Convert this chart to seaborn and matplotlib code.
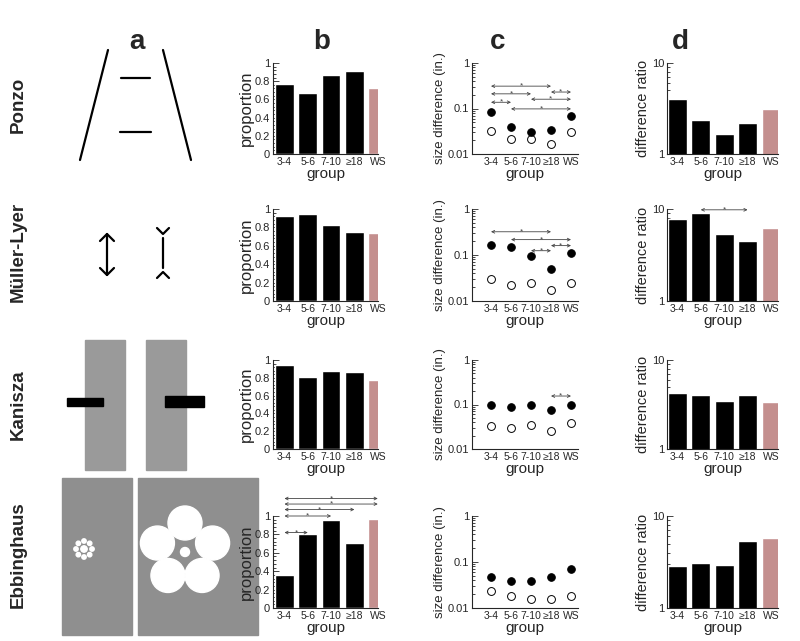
import numpy as np
import pandas as pd
import matplotlib
matplotlib.use('Agg')
import matplotlib.pyplot as plt
import seaborn as sns
from matplotlib.ticker import MultipleLocator, FixedLocator, LogLocator, NullFormatter, FixedFormatter
from matplotlib.patches import Rectangle, Circle

sns.set_style('ticks')
plt.rcParams['font.family'] = ['Liberation Sans', 'DejaVu Sans']

# ------------------------------
# DATA
# ------------------------------
groups = ['3-4', '5-6', '7-10', '≥18', 'WS']
illusions = ['Ponzo', 'Müller-Lyer', 'Kanisza', 'Ebbinghaus']

# column b: proportion
prop_ponzo = [0.77, 0.67, 0.865, 0.91, 0.72]
prop_muller = [0.92, 0.95, 0.83, 0.755, 0.74]
prop_kanisza = [0.94, 0.81, 0.88, 0.86, 0.78]
prop_ebbing = [0.355, 0.80, 0.96, 0.71, 0.97]

# column c: size difference (in.), filled / open circles
size_fill_ponzo = [0.085, 0.040, 0.031, 0.034, 0.069]
size_open_ponzo = [0.032, 0.021, 0.021, 0.017, 0.030]
size_fill_muller = [0.167, 0.15, 0.093, 0.050, 0.11]
size_open_muller = [0.030, 0.022, 0.025, 0.017, 0.025]
size_fill_kanisza = [0.10, 0.089, 0.10, 0.075, 0.10]
size_open_kanisza = [0.033, 0.029, 0.034, 0.025, 0.038]
size_fill_ebbing = [0.047, 0.038, 0.038, 0.048, 0.070]
size_open_ebbing = [0.023, 0.018, 0.0155, 0.016, 0.018]

# column d: difference ratio
ratio_ponzo = [4.0, 2.39, 1.64, 2.18, 3.09]
ratio_muller = [7.8, 8.97, 5.34, 4.47, 6.2]
ratio_kanisza = [4.24, 4.06, 3.44, 4.0, 3.35]
ratio_ebbing = [2.87, 3.1, 2.97, 5.3, 5.7]

# significance brackets: (from group, to group, height)
sig_b_ebbing = [(0, 4, 1.19), (0, 4, 1.13), (0, 3, 1.07), (0, 2, 1.0), (0, 1, 0.82)]
sig_c_ponzo = [(0, 3, 0.31), (0, 2, 0.21), (3, 4, 0.23), (0, 1, 0.137), (2, 4, 0.16), (1, 4, 0.098)]
sig_c_muller = [(0, 3, 0.32), (1, 4, 0.216), (3, 4, 0.16), (2, 3, 0.124)]
sig_c_kanisza = [(3, 4, 0.155)]
sig_d_muller = [(1, 3, 9.8)]

bar_colors = ['black', 'black', 'black', 'black', '#c48f8e']

# ------------------------------
# LAYOUT (pixel boxes)
# ------------------------------
W, H = 800, 641
fig = plt.figure(figsize=(8, 6.41), dpi=100)

col_b = (273, 378)
col_c = (472, 578)
col_d = (667, 778)
rows = [(63, 154), (209, 301), (360, 449), (516, 608)]


def ax_at(x0, x1, y0, y1):
    return fig.add_axes([x0 / W, 1 - y1 / H, (x1 - x0) / W, (y1 - y0) / H])


def style_axis(ax, ylabel, ysize):
    sns.despine(ax=ax)
    for s in ['left', 'bottom']:
        ax.spines[s].set_linewidth(0.8)
    ax.tick_params(axis='y', which='both', direction='in', width=0.6, labelsize=8, pad=2)
    ax.tick_params(axis='y', which='major', length=4)
    ax.tick_params(axis='y', which='minor', length=2)
    ax.tick_params(axis='x', length=0, labelsize=7.5, pad=2)
    ax.set_xlabel('group', fontsize=11, labelpad=0)
    ax.set_ylabel(ylabel, fontsize=ysize, labelpad=1)


def sig(ax, i, j, y, color='#444444'):
    ax.annotate('', xy=(i, y), xytext=(j, y),
                arrowprops=dict(arrowstyle='<->', color=color, lw=0.6,
                                mutation_scale=5, shrinkA=0, shrinkB=0),
                annotation_clip=False)
    ax.text((i + j) / 2, y, '*', ha='center', va='center', fontsize=6,
            color=color, clip_on=False)


def bar_panel(box, vals, log=False, sigs=()):
    ax = ax_at(*box)
    df = pd.DataFrame({'group': groups, 'value': vals})
    sns.barplot(data=df, x='group', y='value', hue='group', palette=bar_colors,
                width=0.8, saturation=1, legend=False, ax=ax)
    if log:
        ax.set_yscale('log')
        ax.set_ylim(1, 10)
        ax.yaxis.set_major_locator(FixedLocator([1, 10]))
        ax.yaxis.set_major_formatter(FixedFormatter(['1', '10']))
        ax.yaxis.set_minor_locator(LogLocator(base=10, subs=np.arange(2, 10)))
        ax.yaxis.set_minor_formatter(NullFormatter())
        style_axis(ax, 'difference ratio', 10.5)
    else:
        ax.set_ylim(0, 1)
        ax.yaxis.set_major_locator(FixedLocator([0, 0.2, 0.4, 0.6, 0.8, 1]))
        ax.yaxis.set_major_formatter(FixedFormatter(['0', '0.2', '0.4', '0.6', '0.8', '1']))
        ax.yaxis.set_minor_locator(MultipleLocator(0.04))
        style_axis(ax, 'proportion', 12)
    for i, j, y in sigs:
        sig(ax, i, j, y)
    return ax


def size_panel(box, fill, hollow, sigs=()):
    ax = ax_at(*box)
    ax.set_yscale('log')
    sns.scatterplot(x=groups, y=hollow, color='white', edgecolor='black',
                    linewidth=0.7, s=32, ax=ax)
    sns.scatterplot(x=groups, y=fill, color='black', edgecolor='black',
                    linewidth=0.7, s=30, ax=ax)
    ax.set_xlim(-0.95, 4.35)
    ax.set_ylim(0.01, 1)
    ax.yaxis.set_major_locator(FixedLocator([0.01, 0.1, 1]))
    ax.yaxis.set_major_formatter(FixedFormatter(['0.01', '0.1', '1']))
    ax.yaxis.set_minor_locator(LogLocator(base=10, subs=np.arange(2, 10)))
    ax.yaxis.set_minor_formatter(NullFormatter())
    style_axis(ax, 'size difference (in.)', 9.5)
    for i, j, y in sigs:
        sig(ax, i, j, y)
    return ax


# ------------------------------
# COLUMN b
# ------------------------------
for (y0, y1), vals, sg in zip(rows, [prop_ponzo, prop_muller, prop_kanisza, prop_ebbing],
                              [(), (), (), sig_b_ebbing]):
    ax = bar_panel((col_b[0], col_b[1], y0, y1), vals, sigs=sg)
    ax.set_xlim(-0.49, 4.01)

# ------------------------------
# COLUMN c
# ------------------------------
size_data = [(size_fill_ponzo, size_open_ponzo, sig_c_ponzo),
             (size_fill_muller, size_open_muller, sig_c_muller),
             (size_fill_kanisza, size_open_kanisza, sig_c_kanisza),
             (size_fill_ebbing, size_open_ebbing, ())]
for (y0, y1), (f, o, sg) in zip(rows, size_data):
    size_panel((col_c[0], col_c[1], y0, y1), f, o, sigs=sg)

# ------------------------------
# COLUMN d
# ------------------------------
for (y0, y1), vals, sg in zip(rows, [ratio_ponzo, ratio_muller, ratio_kanisza, ratio_ebbing],
                              [(), sig_d_muller, (), ()]):
    ax = bar_panel((col_d[0], col_d[1], y0, y1), vals, log=True, sigs=sg)
    ax.set_xlim(-0.44, 4.3)

# ------------------------------
# COLUMN a: stimulus sketches (pixel coords)
# ------------------------------
axa = fig.add_axes([0, 0, 1, 1], zorder=-1)
axa.set_xlim(0, W)
axa.set_ylim(H, 0)
axa.axis('off')

# Ponzo
axa.plot([108, 80], [50, 160], color='black', lw=1.6)
axa.plot([163, 191], [50, 160], color='black', lw=1.6)
axa.plot([121, 150], [78, 78], color='black', lw=1.6)
axa.plot([120, 151], [132, 132], color='black', lw=1.6)

# Mueller-Lyer
axa.plot([107, 107], [234, 275], color='black', lw=1.6)
axa.plot([100, 107, 114], [241, 234, 241], color='black', lw=1.6)
axa.plot([100, 107, 114], [268, 275, 268], color='black', lw=1.6)
axa.plot([163, 163], [238, 268], color='black', lw=1.6)
axa.plot([157, 163, 169], [228, 234, 228], color='black', lw=1.6)
axa.plot([157, 163, 169], [278, 272, 278], color='black', lw=1.6)

# Kanisza
gray_k = '#9a9a9a'
axa.add_patch(Rectangle((85, 340), 40, 130, color=gray_k))
axa.add_patch(Rectangle((146, 340), 40, 130, color=gray_k))
axa.add_patch(Rectangle((67, 398), 36, 8, color='black'))
axa.add_patch(Rectangle((165, 396), 39, 11, color='black'))

# Ebbinghaus
gray_e = '#8f8f8f'
axa.add_patch(Rectangle((62, 478), 70, 157, color=gray_e))
axa.add_patch(Rectangle((138, 478), 120, 157, color=gray_e))
axa.add_patch(Circle((84, 549), 3.2, color='white'))
for t in np.linspace(0, 2 * np.pi, 8, endpoint=False):
    axa.add_patch(Circle((84 + 8 * np.cos(t), 549 + 8 * np.sin(t)), 2.2, color='white'))
axa.add_patch(Circle((185, 552), 4.5, color='white'))
for t in np.linspace(0, 2 * np.pi, 5, endpoint=False) - np.pi / 2:
    axa.add_patch(Circle((185 + 29 * np.cos(t), 552 + 29 * np.sin(t)), 17, color='white'))

# ------------------------------
# LABELS
# ------------------------------
for x, letter in zip([137, 322, 498, 680], ['a', 'b', 'c', 'd']):
    fig.text(x / W, 1 - 42 / H, letter, ha='center', va='center',
             fontsize=20, fontweight='bold')
for y, name in zip([105, 252, 405, 555], illusions):
    fig.text(18 / W, 1 - y / H, name, ha='center', va='center', rotation=90,
             fontsize=13.5, fontweight='bold')

fig.savefig('out.png', dpi=100)
